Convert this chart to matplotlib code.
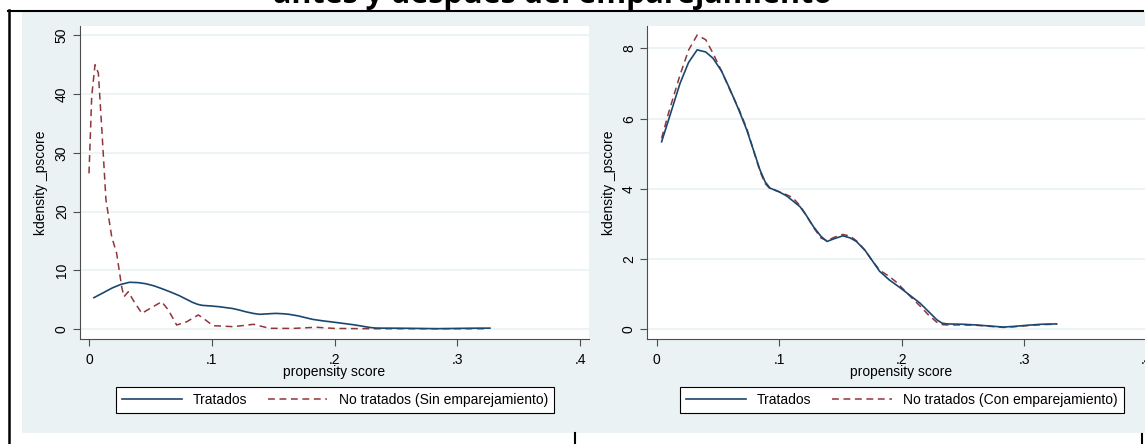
import matplotlib
matplotlib.use("Agg")
import matplotlib.pyplot as plt
from matplotlib.lines import Line2D
from matplotlib.patches import Rectangle

# Datos (propensity score, densidad)
x_trat = [0.004, 0.010, 0.019, 0.026, 0.033, 0.040, 0.046, 0.053, 0.060, 0.067,
          0.0735, 0.079, 0.0843, 0.0885, 0.0925, 0.099, 0.106, 0.111, 0.117, 0.122,
          0.128, 0.134, 0.139, 0.145, 0.152, 0.158, 0.163, 0.170, 0.176, 0.182,
          0.190, 0.196, 0.201, 0.208, 0.215, 0.222, 0.2286, 0.233, 0.237, 0.250,
          0.261, 0.272, 0.283, 0.292, 0.302, 0.314, 0.3265]
y_trat = [5.34, 6.0, 7.0, 7.6, 7.96, 7.9, 7.72, 7.35, 6.82, 6.25,
          5.68, 5.1, 4.54, 4.2, 4.02, 3.93, 3.8, 3.66, 3.49, 3.25,
          2.92, 2.65, 2.5, 2.58, 2.66, 2.6, 2.5, 2.25, 1.95, 1.65,
          1.4, 1.25, 1.12, 0.93, 0.74, 0.5, 0.27, 0.17, 0.15, 0.14,
          0.12, 0.09, 0.06, 0.08, 0.11, 0.14, 0.15]

x_con = x_trat
y_con = [5.44, 6.2, 7.24, 7.95, 8.38, 8.25, 7.86, 7.35, 6.8, 6.28,
         5.72, 5.1, 4.5, 4.15, 4.0, 3.93, 3.83, 3.75, 3.52, 3.25,
         2.9, 2.6, 2.52, 2.62, 2.7, 2.65, 2.52, 2.25, 1.95, 1.68,
         1.5, 1.33, 1.15, 0.9, 0.66, 0.4, 0.2, 0.13, 0.12, 0.12,
         0.11, 0.08, 0.05, 0.07, 0.1, 0.13, 0.14]

x_sin = [0.000, 0.0022, 0.0049, 0.0076, 0.0103, 0.0138, 0.0185, 0.0225, 0.0266, 0.0285,
         0.032, 0.036, 0.043, 0.0497, 0.0592, 0.0646, 0.0714, 0.0796, 0.089, 0.0931,
         0.101, 0.1175, 0.134, 0.147, 0.166, 0.185, 0.200, 0.230, 0.260, 0.290, 0.3225]
y_sin = [26.5, 39.6, 45.0, 43.6, 34.5, 22.0, 15.7, 12.9, 7.2, 5.5,
         6.35, 4.9, 2.67, 3.5, 4.65, 3.24, 0.68, 1.24, 2.4, 1.82,
         0.57, 0.4, 0.8, 0.12, 0.1, 0.3, 0.1, 0.05, 0.05, 0.05, 0.05]

xticks = [0, 0.1, 0.2, 0.3, 0.4]
xticklabels = ["0", ".1", ".2", ".3", ".4"]
yticks_izq = [0, 10, 20, 30, 40, 50]
yticks_der = [0, 2, 4, 6, 8]

titulo = "antes y después del emparejamiento"
lab_trat = "Tratados"
lab_sin = "No tratados (Sin emparejamiento)"
lab_con = "No tratados (Con emparejamiento)"

W, H = 1145, 444
AZUL = "#1a476f"
ROJO = "#90353b"
FONDO = "#eaf2f3"
GRIS = "#4d4d4d"

plt.rcParams["font.family"] = ["Liberation Sans", "DejaVu Sans"]

fig = plt.figure(figsize=(W / 100, H / 100), dpi=100)
fig.patch.set_facecolor("white")


def fx(px):
    return px / W


def fy(py):
    return 1 - py / H


# fondo gris-azulado del gráfico combinado
fig.add_artist(Rectangle((fx(22), fy(433)), (W - 22) / W, (433 - 12) / H,
                         transform=fig.transFigure, facecolor=FONDO,
                         edgecolor="none", zorder=-2))

# bordes negros de la tabla
fig.add_artist(Line2D([fx(8.5), fx(8.5)], [fy(10), 0], color="black", lw=1.8))
fig.add_artist(Line2D([fx(7.5), fx(1143)], [fy(11), fy(11)], color="black", lw=1.5))
fig.add_artist(Line2D([fx(575), fx(575)], [fy(433), 0], color="black", lw=1.5))
fig.add_artist(Line2D([fx(1142), fx(1142)], [fy(434), 0], color="black", lw=1.5))

fig.text(fx(553), fy(2.5), titulo, ha="center", va="baseline",
         fontsize=22, fontweight="bold", family="Open Sans", color="black")


def panel(left, right, x0, xscale, ylim, yticks, xs2, ys2, ymid_lab):
    ax = fig.add_axes([fx(left), fy(339), (right - left) / W, (339 - 26) / H])
    ax.set_facecolor("white")
    ax.set_xlim((left - x0) / xscale, (right - x0) / xscale)
    ax.set_ylim(*ylim)
    for s in ["top", "right"]:
        ax.spines[s].set_visible(False)
    for s in ["left", "bottom"]:
        ax.spines[s].set_color(GRIS)
        ax.spines[s].set_linewidth(0.8)
    ax.set_yticks(yticks)
    ax.set_xticks(xticks)
    ax.set_xticklabels(xticklabels)
    ax.tick_params(axis="both", colors=GRIS, labelcolor="black", labelsize=10,
                   length=5, width=0.8)
    ax.tick_params(axis="x", pad=5)
    ax.tick_params(axis="y", pad=3)
    for t in ax.get_yticklabels():
        t.set_rotation(90)
        t.set_va("center")
    ax.grid(axis="y", color=FONDO, lw=1.2)
    ax.set_axisbelow(True)

    l1, = ax.plot(x_trat, y_trat, color=AZUL, lw=1.2, zorder=3)
    l2, = ax.plot(xs2, ys2, color=ROJO, lw=1.1, linestyle=(0, (4.5, 3)), zorder=2)

    ax.set_ylabel("kdensity _pscore", fontsize=10)
    ax.yaxis.set_label_coords(-ymid_lab / (right - left), 0.5)
    ax.set_xlabel("propensity score", fontsize=10)
    ax.xaxis.set_label_coords(0.5, -(365 - 339) / 313)
    return ax, l1, l2


ax1, a1, b1 = panel(80, 589, 89, 1228, (-1.7, 51.6), yticks_izq, x_sin, y_sin, 32.5)
ax2, a2, b2 = panel(647, 1155, 656.7, 1225, (-0.28, 8.64), yticks_der, x_con, y_con, 31)

for ax, a, b, lab, xl, xr in [(ax1, a1, b1, lab_sin, 109, 561),
                              (ax2, a2, b2, lab_con, 673, 1131)]:
    leg = ax.legend([a, b], [lab_trat, lab], ncol=2, mode="expand",
                    loc="center", bbox_to_anchor=(fx(xl), fy(413), (xr - xl) / W, 26 / H),
                    bbox_transform=fig.transFigure, fontsize=10, handlelength=4.3,
                    handletextpad=0.8, columnspacing=1.5, borderpad=0.45,
                    fancybox=False, framealpha=1, edgecolor="black")
    leg.get_frame().set_linewidth(0.8)

fig.savefig("out.png", dpi=100)
